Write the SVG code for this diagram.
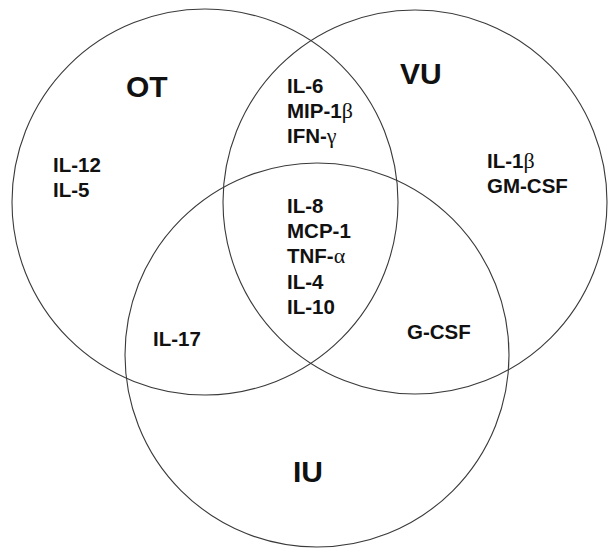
<svg xmlns="http://www.w3.org/2000/svg" width="608" height="548" viewBox="0 0 608 548">
<style>
.set{fill:none;stroke:#3a3a3a;stroke-width:1.1}
.t{font-family:"Liberation Sans",Arial,sans-serif;font-weight:bold;font-size:20.5px;fill:#111}
.big{font-family:"Liberation Sans",Arial,sans-serif;font-weight:bold;font-size:30px;fill:#111}
.g{font-family:"Liberation Serif","Times New Roman",serif;font-weight:normal;font-size:22px}
</style>
<rect width="608" height="548" fill="#fff"/>
<g id="connectors"></g>
<g id="set-OT">
<circle class="set" cx="205" cy="202" r="193"/>
<text class="big" x="126" y="97">OT</text>
</g>
<g id="set-VU">
<circle class="set" cx="415" cy="202" r="192"/>
<text class="big" x="400" y="83.5">VU</text>
</g>
<g id="set-IU">
<circle class="set" cx="317" cy="355" r="192"/>
<text class="big" x="293" y="482">IU</text>
</g>
<g id="region-OT-only">
<text class="t" x="53" y="172.3">IL-12</text>
<text class="t" x="53" y="197.3">IL-5</text>
</g>
<g id="region-VU-only">
<text class="t" x="487" y="168">IL-1<tspan class="g">β</tspan></text>
<text class="t" x="487" y="192.5">GM-CSF</text>
</g>
<g id="region-OT-VU">
<text class="t" x="287" y="93">IL-6</text>
<text class="t" x="287" y="118">MIP-1<tspan class="g">β</tspan></text>
<text class="t" x="287" y="143">IFN-<tspan class="g">γ</tspan></text>
</g>
<g id="region-all">
<text class="t" x="287" y="213">IL-8</text>
<text class="t" x="287" y="238">MCP-1</text>
<text class="t" x="287" y="263">TNF-<tspan class="g">α</tspan></text>
<text class="t" x="287" y="289">IL-4</text>
<text class="t" x="287" y="314">IL-10</text>
</g>
<g id="region-OT-IU">
<text class="t" x="153" y="345.7">IL-17</text>
</g>
<g id="region-VU-IU">
<text class="t" x="407" y="339">G-CSF</text>
</g>
</svg>
